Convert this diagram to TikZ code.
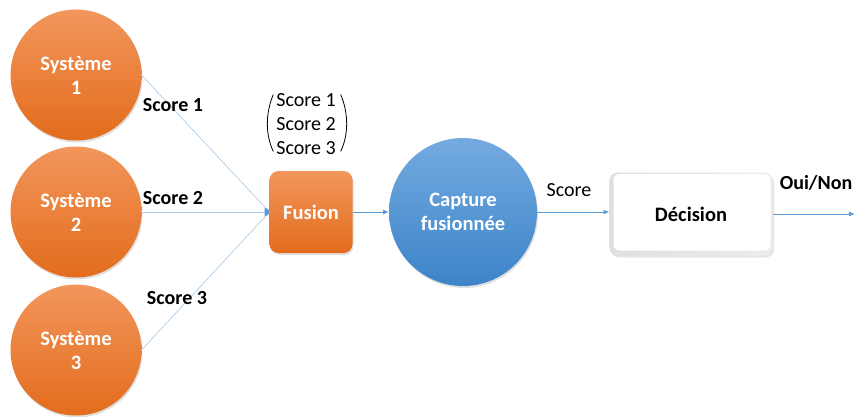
\documentclass[tikz,border=0pt]{standalone}
\usepackage{fontspec}
\setmainfont{Carlito}
\usetikzlibrary{arrows.meta,shadows}
\definecolor{orTop}{HTML}{F2965C}
\definecolor{orBot}{HTML}{E36C1C}
\definecolor{blTop}{HTML}{74AAE0}
\definecolor{blBot}{HTML}{3C84C8}
\definecolor{lineLight}{HTML}{A3C7E8}
\definecolor{lineBlue}{HTML}{5B9BD5}
\begin{document}
\begin{tikzpicture}[x=1pt,y=-1pt,
  every node/.style={inner sep=0pt, outer sep=0pt},
  sysnode/.style={circle, minimum size=131pt, top color=orTop, bottom color=orBot,
    text=white, font=\bfseries\fontsize{20.5}{24}\selectfont, align=center,
    drop shadow={opacity=0.25, shadow xshift=1pt, shadow yshift=-2pt}},
  fusnode/.style={rectangle, rounded corners=9pt, minimum width=83pt, minimum height=82pt,
    top color=orTop, bottom color=orBot, text=white,
    font=\bfseries\fontsize{20.5}{24}\selectfont,
    drop shadow={opacity=0.25, shadow xshift=1pt, shadow yshift=-2pt}},
  capnode/.style={circle, minimum size=148pt, top color=blTop, bottom color=blBot,
    text=white, font=\bfseries\fontsize{20.5}{24}\selectfont, align=center,
    drop shadow={opacity=0.25, shadow xshift=1pt, shadow yshift=-2pt}},
  decnode/.style={rectangle, rounded corners=8pt, minimum width=163pt, minimum height=83pt,
    left color=gray!25, right color=gray!14, font=\bfseries\fontsize{20.5}{24}\selectfont,
    path picture={\fill[white, rounded corners=6pt]
      ([xshift=4pt,yshift=5pt]path picture bounding box.south west) rectangle
      ([xshift=-2pt,yshift=-1.5pt]path picture bounding box.north east);},
    drop shadow={opacity=0.2, shadow xshift=1.5pt, shadow yshift=-2pt}},
  lblb/.style={font=\bfseries\fontsize{20}{24}\selectfont},
  lblr/.style={font=\fontsize{20}{24}\selectfont},
  thinline/.style={draw=lineLight, line width=0.6pt},
  mainline/.style={draw=lineBlue, line width=1pt, -{Latex[length=6pt,width=5pt]}}
]
\useasboundingbox (0,0) rectangle (856,417);

\node[sysnode] (s1) at (76,75) {Système\\1};
\node[sysnode] (s2) at (76,212) {Système\\2};
\node[sysnode] (s3) at (76,350) {Système\\3};
\node[fusnode] (f) at (311,212) {Fusion};
\node[capnode] (c) at (463,212) {Capture\\fusionnée};
\node[decnode] (d) at (691,214) {Décision};
\coordinate (out) at (855,214);

\draw[thinline] (s1.east) -- (f.west);
\draw[thinline] (s2.east) -- (f.west);
\draw[thinline] (s3.east) -- (f.west);
\fill[lineBlue] ([xshift=-5pt,yshift=4pt]f.west) .. controls ([xshift=-1pt,yshift=3pt]f.west) .. (f.west) .. controls ([xshift=-1pt,yshift=-3pt]f.west) .. ([xshift=-5pt,yshift=-4pt]f.west) -- cycle;

\draw[mainline] (f.east) -- (c.west);
\draw[mainline] (c.east) -- (c.east -| d.west);
\draw[mainline] (d.east) -- (out);

\node[lblb] (l1) at (173,105) {Score 1};
\node[lblb] (l2) at (173,198) {Score 2};
\node[lblb] (l3) at (177,298) {Score 3};

\node[lblr, align=center] (v) at (306,124) {Score 1\\Score 2\\Score 3};
\draw[line width=0.8pt] ([xshift=-3pt,yshift=-1pt]v.north west) .. controls ([xshift=-11pt,yshift=-20pt]v.north west) and ([xshift=-11pt,yshift=20pt]v.south west) .. ([xshift=-3pt,yshift=3pt]v.south west);
\draw[line width=0.8pt] ([xshift=5pt,yshift=-1pt]v.north east) .. controls ([xshift=13pt,yshift=-20pt]v.north east) and ([xshift=13pt,yshift=20pt]v.south east) .. ([xshift=5pt,yshift=3pt]v.south east);

\node[lblr] (sc) at (569,190) {Score};
\node[lblb] (on) at (816,183) {Oui/Non};
\end{tikzpicture}
\end{document}
